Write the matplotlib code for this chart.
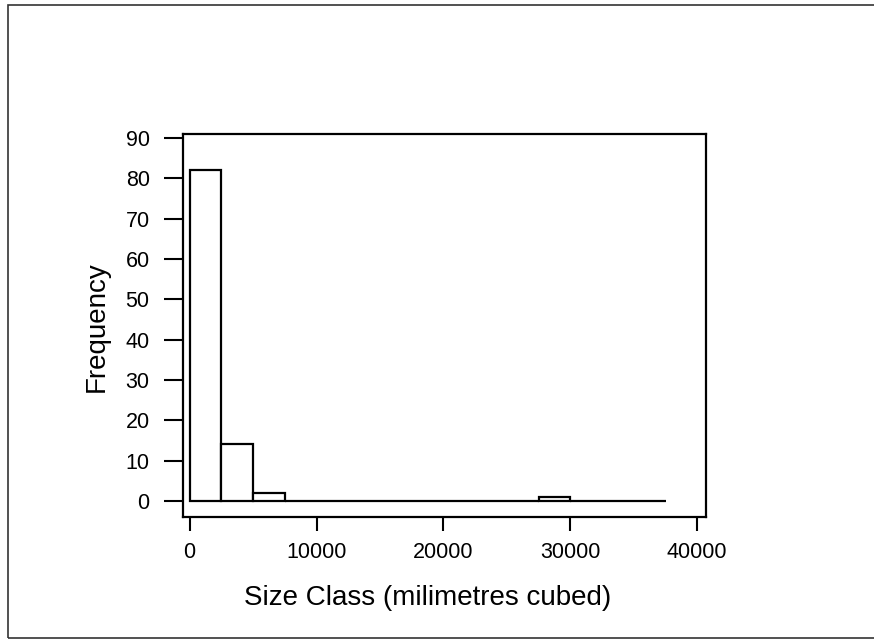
import matplotlib.pyplot as plt
from matplotlib.patches import Rectangle

# histogram bins (mm^3) and counts
bin_edges = [0, 2500, 5000, 7500, 10000, 12500, 15000, 17500, 20000,
             22500, 25000, 27500, 30000, 32500, 35000, 37500]
counts = [82, 14, 2, 0, 0, 0, 0, 0, 0, 0, 0, 1, 0, 0, 0]
x_ticks = [0, 10000, 20000, 30000, 40000]
y_ticks = [0, 10, 20, 30, 40, 50, 60, 70, 80, 90]

plt.rcParams['font.family'] = ['Liberation Sans', 'DejaVu Sans']

fig = plt.figure(figsize=(8.74, 6.43), dpi=100)
ax = fig.add_axes([183 / 874, 1 - 517 / 643, 523 / 874, 383 / 643])

widths = [bin_edges[i + 1] - bin_edges[i] for i in range(len(counts))]
ax.bar(bin_edges[:-1], counts, width=widths, align='edge',
       facecolor='white', edgecolor='black', linewidth=1.6)

ax.set_xlim(-520, 40690)
ax.set_ylim(-4, 91)
ax.set_xticks(x_ticks)
ax.set_yticks(y_ticks)
ax.tick_params(axis='y', direction='out', length=14, width=1.5,
               labelsize=15.5, pad=10)
ax.tick_params(axis='x', direction='out', length=10, width=1.5,
               labelsize=15.5, pad=8)
for s in ax.spines.values():
    s.set_linewidth(1.6)

fig.text(97 / 874, 1 - 327 / 643, 'Frequency', rotation=90,
         ha='center', va='center', fontsize=20)
fig.text(428 / 874, 1 - 598 / 643, 'Size Class (milimetres cubed)',
         ha='center', va='center', fontsize=20)

# scanned page frame
fig.patches.append(Rectangle((8 / 874, 1 - 638 / 643), 0.995, 633 / 643,
                             transform=fig.transFigure, fill=False,
                             edgecolor='#333333', linewidth=1.2))

fig.savefig('out.png', dpi=100)
